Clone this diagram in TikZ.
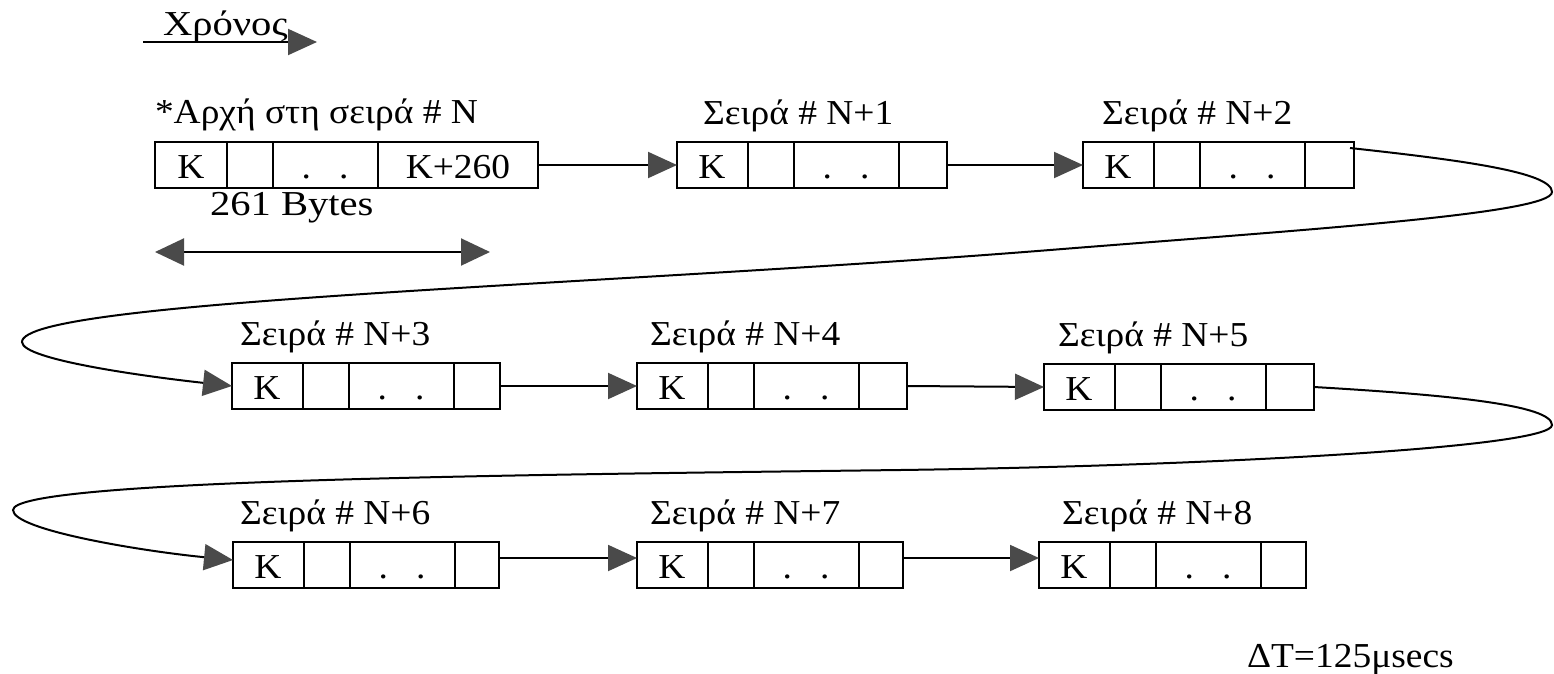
\documentclass[tikz,border=0pt]{standalone}
\usepackage{fontspec}
\setmainfont{Liberation Serif}
\usepackage{graphicx}
\usetikzlibrary{arrows.meta}
\definecolor{tipgray}{HTML}{4A4A4A}
\newcommand{\txs}{1.07}
\newcommand{\tx}[1]{\scalebox{\txs}[1]{#1}}
\newcommand{\txw}[1]{\scalebox{1.16}[1]{#1}}
\tikzset{
  boxst/.style={draw, line width=2pt, minimum height=46pt, inner sep=0pt, outer sep=0pt},
  lbl/.style={inner sep=0pt, outer sep=0pt, font=\fontsize{35}{42}\selectfont},
  conn/.style={line width=2pt, -{Triangle[length=29pt,width=26pt,color=tipgray]}},
  dconn/.style={line width=2pt, {Triangle[length=29pt,width=27pt,color=tipgray]}-{Triangle[length=29pt,width=27pt,color=tipgray]}},
  divst/.style={line width=2pt}
}
% #1 name, #2 left, #3 top, #4 width, #5 title, #6 title offset
\newcommand{\seirabox}[6]{%
  \node[boxst, minimum width=#4pt, anchor=north west] (#1) at (#2,#3) {};
  \draw[divst] ([xshift=71pt]#1.north west) -- ([xshift=71pt]#1.south west);
  \draw[divst] ([xshift=117pt]#1.north west) -- ([xshift=117pt]#1.south west);
  \draw[divst] ([xshift=222pt]#1.north west) -- ([xshift=222pt]#1.south west);
  \node[lbl, anchor=base] (#1k) at ([xshift=35pt,yshift=10pt]#1.south west) {\tx{K}};
  \node[lbl, anchor=base] (#1d) at ([xshift=169pt,yshift=10pt]#1.south west) {\tx{.\hspace{0.75em}.}};
  \node[lbl, anchor=base west] (#1t) at ([xshift=#6pt,yshift=18pt]#1.north west) {\tx{#5}};
}
\begin{document}
\begin{tikzpicture}[x=1pt, y=-1pt]
\useasboundingbox[fill=white] (0,0) rectangle (1554,673);

% time arrow
\coordinate (t0) at (143,42);
\coordinate (t1) at (317,42);
\draw[conn] (t0) -- (t1);
\node[lbl, anchor=base west] (chronos) at (163,35) {\txw{Χρόνος}};

% first box
\node[boxst, minimum width=383pt, anchor=north west] (n1) at (155,142) {};
\draw[divst] ([xshift=72pt]n1.north west) -- ([xshift=72pt]n1.south west);
\draw[divst] ([xshift=118pt]n1.north west) -- ([xshift=118pt]n1.south west);
\draw[divst] ([xshift=223pt]n1.north west) -- ([xshift=223pt]n1.south west);
\node[lbl, anchor=base] (n1k) at ([xshift=36pt,yshift=10pt]n1.south west) {\tx{K}};
\node[lbl, anchor=base] (n1d) at ([xshift=170pt,yshift=10pt]n1.south west) {\tx{.\hspace{0.75em}.}};
\node[lbl, anchor=base] (n1e) at ([xshift=303pt,yshift=10pt]n1.south west) {\tx{K+260}};
\node[lbl, anchor=base west] (n1t) at (155,123) {\tx{*Αρχή στη σειρά \# N}};
\node[lbl, anchor=base west] (bytes) at (210,215) {\txw{261 Bytes}};
\coordinate (b0) at (155,252);
\coordinate (b1) at (490,252);
\draw[dconn] (b0) -- (b1);

% other boxes
\seirabox{n2}{677}{142}{270}{Σειρά \# N+1}{26}
\seirabox{n3}{1083}{142}{271}{Σειρά \# N+2}{19}
\seirabox{n4}{232}{363}{268}{Σειρά \# N+3}{8}
\seirabox{n5}{637}{363}{270}{Σειρά \# N+4}{13}
\seirabox{n6}{1044}{364}{270}{Σειρά \# N+5}{14}
\seirabox{n7}{233}{542}{266}{Σειρά \# N+6}{7}
\seirabox{n8}{637}{542}{266}{Σειρά \# N+7}{13}
\seirabox{n9}{1039}{542}{267}{Σειρά \# N+8}{23}

% straight connectors
\draw[conn] (n1.east) -- (n2.west);
\draw[conn] (n2.east) -- (n3.west);
\draw[conn] (n4.east) -- (n5.west);
\draw[conn] (n5.east) -- (n6.west);
\draw[conn] ([yshift=7pt]n7.east) -- ([yshift=7pt]n8.west);
\draw[conn] ([yshift=7pt]n8.east) -- ([yshift=7pt]n9.west);

% wrap-around connectors
\draw[conn] ([xshift=-4pt,yshift=-6pt]n3.north east)
  .. controls (1460,160) and (1552,172) .. (1552,192)
  .. controls (1552,214) and (1300,230) .. (1050,250)
  .. controls (600,286) and (22,300) .. (22,342)
  .. controls (22,360) and (150,377) .. (n4.west);
\draw[conn] (n6.east)
  .. controls (1450,395) and (1552,405) .. (1552,425)
  .. controls (1552,448) and (1200,466) .. (900,470)
  .. controls (500,475) and (13,480) .. (13,510)
  .. controls (13,530) and (141,551) .. ([yshift=5pt]n7.west);

\node[lbl, anchor=base west] (dt) at (1247,667) {\tx{ΔT=125μsecs}};
\end{tikzpicture}
\end{document}
